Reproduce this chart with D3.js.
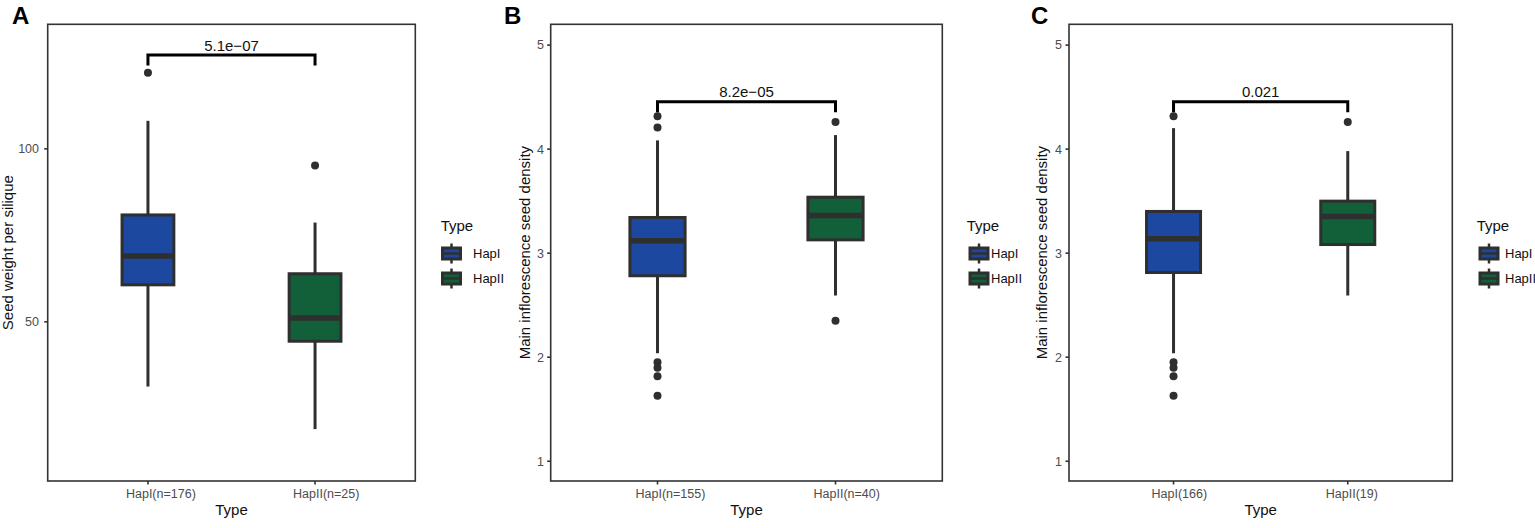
<!DOCTYPE html>
<html lang="en">
  <head>
    <meta charset="UTF-8" />
    <title>Seed weight and seed density by haplotype</title>
    <script src="https://d3js.org/d3.v7.min.js"></script>
    <style>
      body {
        margin: 0;
        background: #fff;
        font-family: "Liberation Sans", Arial, sans-serif;
      }
      svg {
        display: block;
      }
      .tick-label {
        font-size: 12.5px;
        fill: #4d4d4d;
      }
      .axis-title {
        font-size: 15px;
        fill: #111;
      }
      .legend-label {
        font-size: 13px;
        fill: #111;
      }
      .p-label {
        font-size: 15px;
        fill: #111;
        text-anchor: middle;
      }
      .panel-letter {
        font-size: 24px;
        font-weight: bold;
        fill: #000;
      }
    </style>
  </head>
  <body>
    <svg width="1535" height="528"></svg>
    <script>
      // ---- data ----
      const groups = ["HapI", "HapII"];
      const colors = ["#1c48a0", "#12603a"];

      const panelLetters = ["A", "B", "C"];
      const yTitles = [
        "Seed weight per silique",
        "Main inflorescence seed density",
        "Main inflorescence seed density"
      ];
      const pValues = ["5.1e\u221207", "8.2e\u221205", "0.021"];

      const xLabelsA = ["HapI(n=176)", "HapII(n=25)"];
      const xLabelsB = ["HapI(n=155)", "HapII(n=40)"];
      const xLabelsC = ["HapI(166)", "HapII(19)"];

      const yTicksA = [50, 100];
      const yTicksBC = [1, 2, 3, 4, 5];
      const yDomainA = [4, 136];
      const yDomainBC = [0.81, 5.2];

      // box stats: lower whisker, Q1, median, Q3, upper whisker
      const statsA = [
        { lo: 31.3, q1: 60.7, med: 69.0, q3: 80.9, hi: 108.1 },
        { lo: 19.0, q1: 44.4, med: 51.1, q3: 63.9, hi: 78.7 }
      ];
      const statsB = [
        { lo: 2.038, q1: 2.783, med: 3.119, q3: 3.343, hi: 4.084 },
        { lo: 2.593, q1: 3.128, med: 3.362, q3: 3.538, hi: 4.135 }
      ];
      const statsC = [
        { lo: 2.038, q1: 2.814, med: 3.138, q3: 3.401, hi: 4.202 },
        { lo: 2.593, q1: 3.083, med: 3.353, q3: 3.5, hi: 3.981 }
      ];

      const outliersA = [[122.0], [95.2]];
      const outliersB = [[4.317, 4.209, 1.952, 1.898, 1.817, 1.629], [4.26, 2.35]];
      const outliersC = [[4.317, 1.952, 1.898, 1.817, 1.629], [4.26]];

      // significance bracket: bar level and tip level
      const bracketA = [127.1, 124.1];
      const bracketB = [4.455, 4.355];
      const bracketC = [4.455, 4.355];

      // ---- layout (pixels) ----
      const panels = [
        {
          left: 47.7, right: 415.3, letterX: 12, titleX: 12.5, tickRight: 39,
          legendX: 440.7, keyX: 441, labelX: 473,
          xLabels: xLabelsA, ticks: yTicksA, domain: yDomainA,
          stats: statsA, outliers: outliersA, bracket: bracketA
        },
        {
          left: 550.7, right: 942.3, letterX: 504, titleX: 530, tickRight: 544,
          legendX: 966.7, keyX: 968.5, labelX: 991,
          xLabels: xLabelsB, ticks: yTicksBC, domain: yDomainBC,
          stats: statsB, outliers: outliersB, bracket: bracketB
        },
        {
          left: 1069, right: 1452.3, letterX: 1031, titleX: 1047, tickRight: 1062,
          legendX: 1476.7, keyX: 1478.5, labelX: 1505,
          xLabels: xLabelsC, ticks: yTicksBC, domain: yDomainBC,
          stats: statsC, outliers: outliersC, bracket: bracketC
        }
      ];
      const plotTop = 24.3,
        plotBottom = 481;

      const svg = d3.select("svg");

      panels.forEach((p, i) => {
        const g = svg.append("g");

        const x = d3
          .scalePoint()
          .domain(groups)
          .range([p.left, p.right])
          .padding(0.6);
        const y = d3.scaleLinear().domain(p.domain).range([plotBottom, plotTop]);
        const boxW = x.step() * 0.31;

        // panel letter
        g.append("text")
          .attr("class", "panel-letter")
          .attr("x", p.letterX)
          .attr("y", 24)
          .text(panelLetters[i]);

        // y axis ticks and labels
        const yTick = g.append("g").selectAll("g").data(p.ticks).enter().append("g");
        yTick
          .append("line")
          .attr("x1", p.left - 3.5)
          .attr("x2", p.left)
          .attr("y1", (d) => y(d))
          .attr("y2", (d) => y(d))
          .attr("stroke", "#333")
          .attr("stroke-width", 1.6);
        yTick
          .append("text")
          .attr("class", "tick-label")
          .attr("x", p.tickRight)
          .attr("y", (d) => y(d))
          .attr("dy", "0.35em")
          .attr("text-anchor", "end")
          .text((d) => d);

        // x axis ticks and labels
        const xTick = g.append("g").selectAll("g").data(groups).enter().append("g");
        xTick
          .append("line")
          .attr("x1", (d) => x(d))
          .attr("x2", (d) => x(d))
          .attr("y1", plotBottom)
          .attr("y2", plotBottom + 3.5)
          .attr("stroke", "#333")
          .attr("stroke-width", 1.6);
        xTick
          .append("text")
          .attr("class", "tick-label")
          .attr("x", (d) => x(d) - 22)
          .attr("y", 497.5)
          .text((d, j) => p.xLabels[j]);

        // axis titles
        g.append("text")
          .attr("class", "axis-title")
          .attr("x", (p.left + p.right) / 2)
          .attr("y", 515)
          .attr("text-anchor", "middle")
          .text("Type");
        g.append("text")
          .attr("class", "axis-title")
          .attr(
            "transform",
            `translate(${p.titleX},${(plotTop + plotBottom) / 2}) rotate(-90)`
          )
          .attr("text-anchor", "middle")
          .text(yTitles[i]);

        // boxes
        const box = g
          .append("g")
          .selectAll("g")
          .data(p.stats)
          .enter()
          .append("g");
        box
          .append("line")
          .attr("x1", (d, j) => x(groups[j]))
          .attr("x2", (d, j) => x(groups[j]))
          .attr("y1", (d) => y(d.hi))
          .attr("y2", (d) => y(d.q3))
          .attr("stroke", "#2f2f2f")
          .attr("stroke-width", 3);
        box
          .append("line")
          .attr("x1", (d, j) => x(groups[j]))
          .attr("x2", (d, j) => x(groups[j]))
          .attr("y1", (d) => y(d.q1))
          .attr("y2", (d) => y(d.lo))
          .attr("stroke", "#2f2f2f")
          .attr("stroke-width", 3);
        box
          .append("rect")
          .attr("x", (d, j) => x(groups[j]) - boxW / 2)
          .attr("width", boxW)
          .attr("y", (d) => y(d.q3))
          .attr("height", (d) => y(d.q1) - y(d.q3))
          .attr("fill", (d, j) => colors[j])
          .attr("stroke", "#2f2f2f")
          .attr("stroke-width", 3);
        box
          .append("line")
          .attr("x1", (d, j) => x(groups[j]) - boxW / 2)
          .attr("x2", (d, j) => x(groups[j]) + boxW / 2)
          .attr("y1", (d) => y(d.med))
          .attr("y2", (d) => y(d.med))
          .attr("stroke", "#2f2f2f")
          .attr("stroke-width", 5.5);

        // outliers
        p.outliers.forEach((vals, j) => {
          g.append("g")
            .selectAll("circle")
            .data(vals)
            .enter()
            .append("circle")
            .attr("cx", x(groups[j]))
            .attr("cy", (d) => y(d))
            .attr("r", 4)
            .attr("fill", "#2f2f2f");
        });

        // significance bracket
        const [barV, tipV] = p.bracket;
        g.append("path")
          .attr(
            "d",
            `M${x(groups[0])},${y(tipV)}V${y(barV)}H${x(groups[1])}V${y(tipV)}`
          )
          .attr("fill", "none")
          .attr("stroke", "#000")
          .attr("stroke-width", 3);
        g.append("text")
          .attr("class", "p-label")
          .attr("x", (x(groups[0]) + x(groups[1])) / 2)
          .attr("y", y(barV) - 4.5)
          .text(pValues[i]);

        // panel border
        g.append("rect")
          .attr("x", p.left)
          .attr("y", plotTop)
          .attr("width", p.right - p.left)
          .attr("height", plotBottom - plotTop)
          .attr("fill", "none")
          .attr("stroke", "#333")
          .attr("stroke-width", 1.6);

        // legend
        const leg = g.append("g");
        leg
          .append("text")
          .attr("class", "axis-title")
          .attr("x", p.legendX)
          .attr("y", 231)
          .text("Type");
        const key = leg
          .selectAll("g")
          .data(groups)
          .enter()
          .append("g")
          .attr("transform", (d, j) => `translate(${p.keyX},${253.5 + j * 25})`);
        key
          .append("line")
          .attr("x1", 10.5)
          .attr("x2", 10.5)
          .attr("y1", -10)
          .attr("y2", 10)
          .attr("stroke", "#2f2f2f")
          .attr("stroke-width", 2.5);
        key
          .append("rect")
          .attr("x", 1.5)
          .attr("y", -5.5)
          .attr("width", 18)
          .attr("height", 11)
          .attr("fill", (d, j) => colors[j])
          .attr("stroke", "#2f2f2f")
          .attr("stroke-width", 3);
        key
          .append("line")
          .attr("x1", 1.5)
          .attr("x2", 19.5)
          .attr("y1", 0)
          .attr("y2", 0)
          .attr("stroke", "#2f2f2f")
          .attr("stroke-width", 2.5);
        key
          .append("text")
          .attr("class", "legend-label")
          .attr("x", p.labelX - p.keyX)
          .attr("dy", "0.35em")
          .text((d) => d);
      });
    </script>
  </body>
</html>
